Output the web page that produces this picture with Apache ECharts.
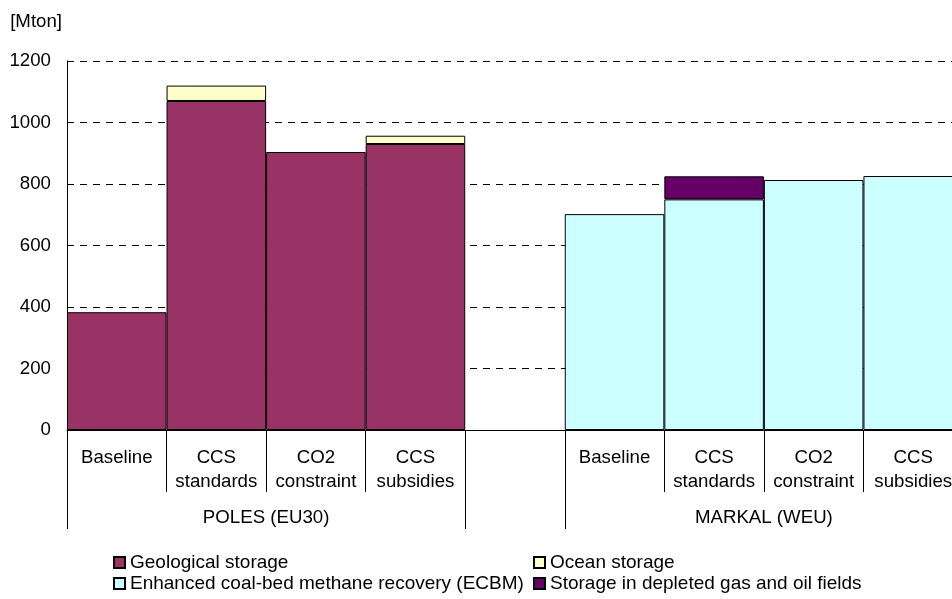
<!DOCTYPE html>
<html>
<head>
<meta charset="utf-8">
<script src="https://cdn.jsdelivr.net/npm/echarts@6/dist/echarts.min.js"></script>
<style>html,body{margin:0;padding:0;background:#fff;}#c{width:952px;height:599px;}</style>
</head>
<body>
<div id="c"></div>
<script>
const categories = ['Baseline', 'CCS\nstandards', 'CO2\nconstraint', 'CCS\nsubsidies', '', 'Baseline', 'CCS\nstandards', 'CO2\nconstraint', 'CCS\nsubsidies'];
const groupLabels = ['POLES (EU30)', 'MARKAL (WEU)'];
const groupCenters = [2, 7];
const groupBounds = [0, 4, 5, 9];
const geological = [383, 1070, 904, 930, null, null, null, null, null];
const ocean = [null, 50, null, 27, null, null, null, null, null];
const ecbm = [null, null, null, null, null, 702, 750, 813, 826];
const depleted = [null, null, null, null, null, null, 75, null, null];
const yTicks = [0, 200, 400, 600, 800, 1000, 1200];
const seriesNames = ['Geological storage', 'Ocean storage', 'Enhanced coal-bed methane recovery (ECBM)', 'Storage in depleted gas and oil fields'];

const FONT = 'Liberation Sans, Arial, sans-serif';
const FS = 18.67;
const chart = echarts.init(document.getElementById('c'));
function bar(name, data, color) {
  return {
    name: name, type: 'bar', stack: 'total', data: data,
    xAxisIndex: 0, yAxisIndex: 0,
    barCategoryGap: '0%',
    itemStyle: { color: color, borderColor: '#000', borderWidth: 1 },
    emphasis: { disabled: true }
  };
}
function legendCfg(names, left) {
  return {
    data: names, orient: 'vertical', left: left, top: 552, height: 47, padding: 0,
    itemWidth: 11, itemHeight: 11, itemGap: 0, icon: 'rect', selectedMode: false,
    textStyle: { color: '#000', fontSize: 19, lineHeight: 21, fontFamily: FONT, padding: [0, 0, 0, 0] }
  };
}
chart.setOption({
  animation: false,
  textStyle: { fontFamily: FONT },
  grid: { left: 67, width: 896, top: 61, height: 369, containLabel: false, outerBoundsMode: 'none' },
  xAxis: [
    {
      type: 'category', data: categories, position: 'bottom',
      axisLine: { show: true, lineStyle: { color: '#000', width: 1 } },
      axisTick: { show: true, interval: 0, length: 62, lineStyle: { color: '#000' } },
      axisLabel: { interval: 0, margin: 16, color: '#000', fontSize: FS, lineHeight: 24, fontFamily: FONT, verticalAlign: 'top' },
      splitLine: { show: false }
    },
    {
      type: 'value', min: 0, max: 9, position: 'bottom',
      axisLine: { show: false },
      axisTick: { show: true, customValues: groupBounds, length: 99, lineStyle: { color: '#000' } },
      axisLabel: {
        customValues: groupCenters, margin: 76, color: '#000', fontSize: FS, lineHeight: 24, fontFamily: FONT,
        formatter: function (v) { const i = groupCenters.indexOf(v); return i >= 0 ? groupLabels[i] : ''; }
      },
      splitLine: { show: false }
    }
  ],
  yAxis: {
    type: 'value', min: yTicks[0], max: yTicks[yTicks.length - 1], interval: 200,
    name: '[Mton]', nameLocation: 'end', nameGap: 30,
    nameTextStyle: { color: '#000', fontSize: FS, fontFamily: FONT, align: 'right', padding: [0, 5, 0, 0] },
    axisLine: { show: true, lineStyle: { color: '#000', width: 1 } },
    axisTick: { show: true, inside: true, length: 5, lineStyle: { color: '#000' } },
    axisLabel: { margin: 16, color: '#000', fontSize: FS, fontFamily: FONT, formatter: function (v) { return String(v); } },
    splitLine: { show: true, lineStyle: { color: '#000', width: 1, type: [7, 6] } }
  },
  legend: [
    legendCfg([seriesNames[0], seriesNames[2]], 113),
    legendCfg([seriesNames[1], seriesNames[3]], 533)
  ],
  series: [
    bar(seriesNames[0], geological, '#993366'),
    bar(seriesNames[1], ocean, '#FFFFCC'),
    bar(seriesNames[2], ecbm, '#CCFFFF'),
    bar(seriesNames[3], depleted, '#660066')
  ]
});
</script>
</body>
</html>
